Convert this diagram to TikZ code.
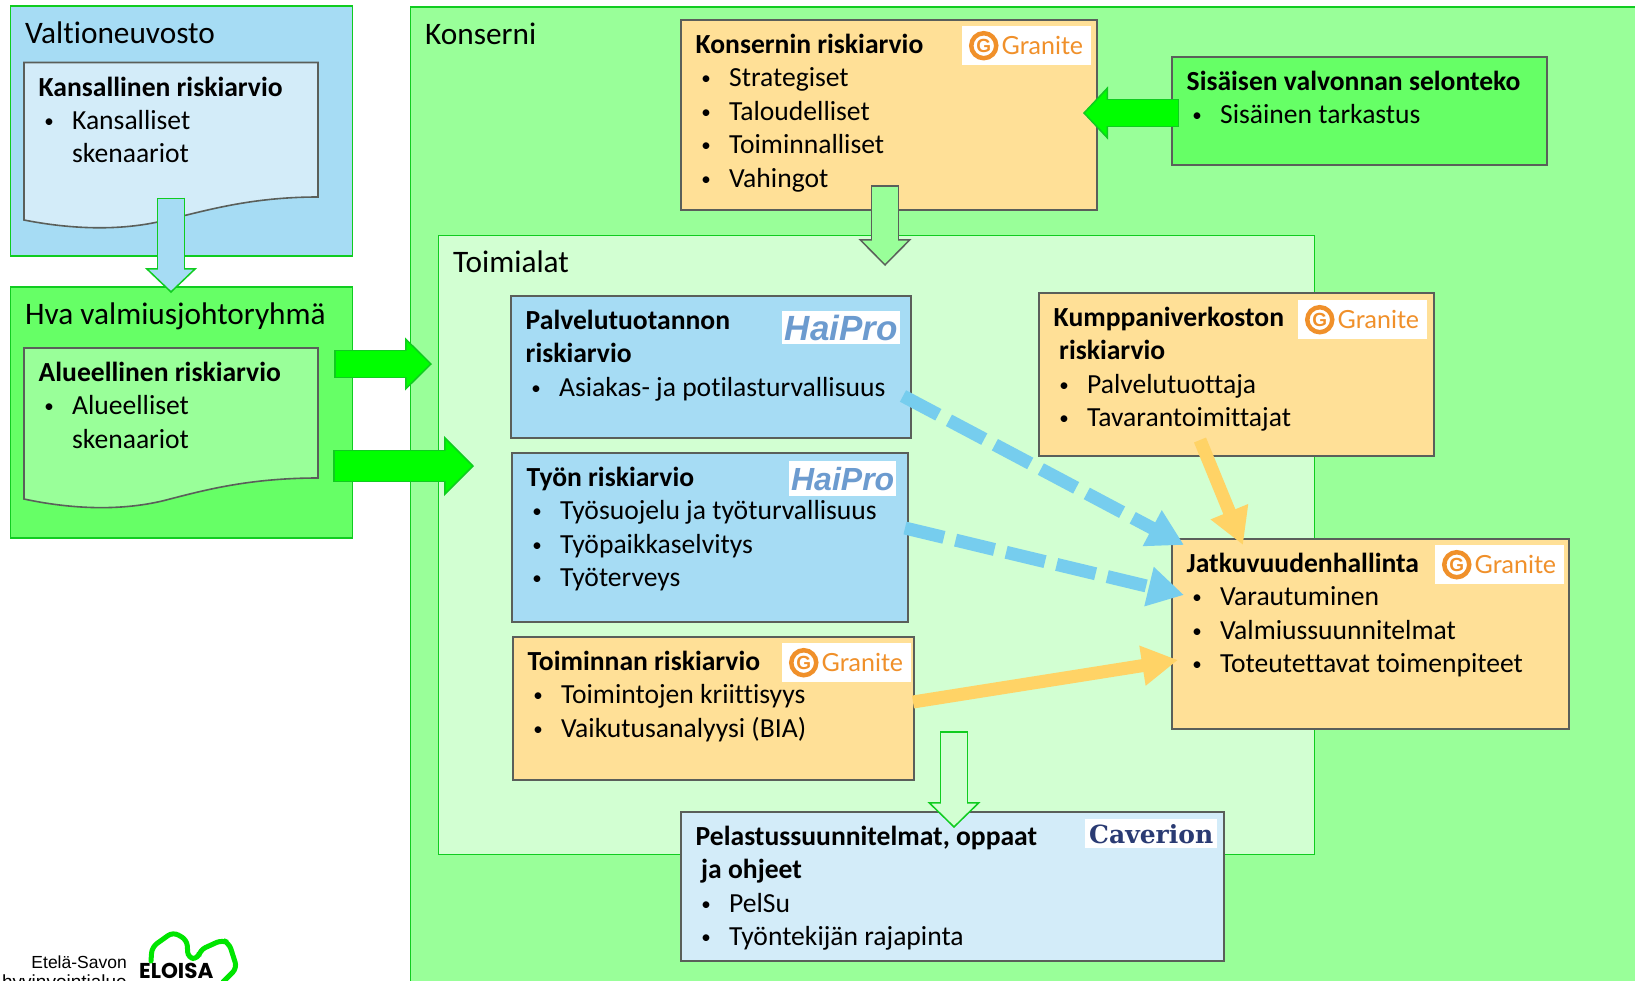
\documentclass[tikz,border=0pt]{standalone}
\usepackage{fontspec}
\setmainfont[Ligatures=NoCommon]{Carlito}
\newfontfamily\granitefont{Lato}
\newfontfamily\arialfont{Liberation Sans}
\newfontfamily\caverionfont{DejaVu Serif}
\newfontfamily\eloisafont{Poppins}
\usetikzlibrary{positioning, arrows.meta}

\definecolor{valtblue}{HTML}{A6DCF4}
\definecolor{paleblue}{HTML}{D3ECF9}
\definecolor{hvagreen}{HTML}{66FF66}
\definecolor{midgreen}{HTML}{99FF99}
\definecolor{palegreen}{HTML}{D2FFD2}
\definecolor{boxorange}{HTML}{FFE097}
\definecolor{edgegreen}{HTML}{10CC20}
\definecolor{edgegrey}{HTML}{5A5F5A}
\definecolor{puregreen}{HTML}{00FF00}
\definecolor{dashblue}{HTML}{76CDEE}
\definecolor{dashorange}{HTML}{FFD366}
\definecolor{graniteorange}{HTML}{F0902A}
\definecolor{haiproblue}{HTML}{6C9BCF}
\definecolor{caverionblue}{HTML}{2A3B73}

\newcommand{\riskitem}[1]{\makebox[33.4pt][l]{\hspace{5.6pt}\raisebox{2pt}{\fontsize{19}{19}\selectfont\textbullet}}#1}
\newcommand{\granitelogo}[3]{%
	\node[logobox, minimum width=129pt, minimum height=39pt] (#1) at (#2,#3) {};
	\node[circle, draw=graniteorange, line width=4.5pt, minimum size=25pt, inner sep=0pt, text=graniteorange,
		font=\arialfont\bfseries\fontsize{19}{19}\selectfont, right=7pt of #1.west] (#1_icon) {G};
	\node[text=graniteorange, inner sep=0pt, font=\granitefont\fontsize{25}{25}\selectfont, right=3pt of #1_icon] (#1_text) {Granite};
}

\tikzset{
	groupbox/.style={draw=edgegreen, line width=1.5pt, anchor=north west, inner sep=0pt, outer sep=0pt},
	riskbox/.style={draw=edgegrey, line width=1.6pt, anchor=north west, inner sep=0pt, outer sep=0pt},
	logobox/.style={fill=white, anchor=north west, inner sep=0pt},
	grouptext/.style={below right=12pt and 14.5pt of #1, inner sep=0pt, font=\fontsize{31.3}{36}\selectfont},
	risktext/.style={below right=10pt and 14.5pt of #1, inner sep=0pt, align=left, font=\fontsize{27.6}{33.4}\selectfont},
	arrowskin/.style n args={5}{draw=#1, line width=#3+1.5, -{Triangle[length=#5,width=#4,line width=1.5pt,fill=#2]}},
	arrowcore/.style n args={3}{draw=#1, line width=#2, shorten >=#3, shorten <=1.5pt},
	dashedarrow/.style={draw=#1, line width=13pt, dash pattern=on 40pt off 12pt, -{Triangle[length=36pt,width=38pt]}},
	solidarrow/.style={draw=#1, line width=13pt, -{Triangle[length=36pt,width=38pt]}}
}

\begin{document}
\begin{tikzpicture}[x=1pt, y=-1pt]
	\useasboundingbox (0,0) rectangle (1635,980);
	\clip (0,0) rectangle (1635,980);
	\fill[white] (0,0) rectangle (1635,980);

	% left column
	\node[groupbox, fill=valtblue, minimum width=342pt, minimum height=250pt] (valt) at (10.5,6) {};
	\node[grouptext=valt.north west] (valt_txt) {\strut Valtioneuvosto};
	\coordinate (kans) at (24,62.5);
	\draw[draw=edgegrey, line width=1.6pt, fill=paleblue] (kans) -- (318,62.5) -- (318,197)
		.. controls (250,197) and (205,211) .. (170,219) .. controls (130,230) and (80,231) .. (24,220) -- cycle;
	\node[risktext=kans] (kans_txt) {\strut\textbf{Kansallinen riskiarvio}\\
		\riskitem{Kansalliset}\\
		\hspace*{33.4pt}skenaariot};

	\node[groupbox, fill=hvagreen, minimum width=342pt, minimum height=251pt] (hva) at (10.5,287) {};
	\node[grouptext=hva.north west] (hva_txt) {\strut Hva valmiusjohtoryhmä};
	\coordinate (alue) at (24,348);
	\draw[draw=edgegrey, line width=1.6pt, fill=midgreen] (alue) -- (318,348) -- (318,478)
		.. controls (250,478) and (205,490) .. (170,499) .. controls (130,510) and (80,511) .. (24,499) -- cycle;
	\node[risktext=alue] (alue_txt) {\strut\textbf{Alueellinen riskiarvio}\\
		\riskitem{Alueelliset}\\
		\hspace*{33.4pt}skenaariot};

	% konserni
	\node[groupbox, fill=midgreen, minimum width=1300pt, minimum height=1100pt] (kons) at (410.5,7) {};
	\node[grouptext=kons.north west] (kons_txt) {\strut Konserni};
	\node[groupbox, fill=palegreen, minimum width=876pt, minimum height=619pt] (toim) at (438.5,235.5) {};
	\node[grouptext=toim.north west] (toim_txt) {\strut Toimialat};

	\node[riskbox, fill=boxorange, minimum width=416pt, minimum height=190pt] (kriski) at (681,20) {};
	\node[risktext=kriski.north west] (kriski_txt) {\strut\textbf{Konsernin riskiarvio}\\
		\riskitem{Strategiset}\\
		\riskitem{Taloudelliset}\\
		\riskitem{Toiminnalliset}\\
		\riskitem{Vahingot}};
	\granitelogo{kriski_logo}{962}{26}

	\node[riskbox, fill=hvagreen, minimum width=375pt, minimum height=108pt] (valvonta) at (1172,57) {};
	\node[risktext=valvonta.north west] (valvonta_txt) {\strut\textbf{Sisäisen valvonnan selonteko}\\
		\riskitem{Sisäinen tarkastus}};

	\node[riskbox, fill=valtblue, minimum width=400pt, minimum height=142pt] (palv) at (511,296) {};
	\node[risktext=palv.north west] (palv_txt) {\strut\textbf{Palvelutuotannon}\\
		\textbf{riskiarvio}\\
		\riskitem{Asiakas- ja potilasturvallisuus}};
	\node[logobox, minimum width=118pt, minimum height=33pt, text=haiproblue, font=\arialfont\bfseries\itshape\fontsize{35}{35}\selectfont] (palv_logo) at (782,311) {HaiPro};

	\node[riskbox, fill=valtblue, minimum width=396pt, minimum height=169pt] (tyon) at (512,453) {};
	\node[risktext=tyon.north west] (tyon_txt) {\strut\textbf{Työn riskiarvio}\\
		\riskitem{Työsuojelu ja työturvallisuus}\\
		\riskitem{Työpaikkaselvitys}\\
		\riskitem{Työterveys}};
	\node[logobox, minimum width=107pt, minimum height=35pt, text=haiproblue, font=\arialfont\bfseries\itshape\fontsize{32}{32}\selectfont] (tyon_logo) at (789,461) {HaiPro};

	\node[riskbox, fill=boxorange, minimum width=401pt, minimum height=143pt] (triski) at (513,637) {};
	\node[risktext=triski.north west] (triski_txt) {\strut\textbf{Toiminnan riskiarvio}\\
		\riskitem{Toimintojen kriittisyys}\\
		\riskitem{Vaikutusanalyysi (BIA)}};
	\granitelogo{triski_logo}{782}{643}

	\node[riskbox, fill=boxorange, minimum width=395pt, minimum height=163pt] (kump) at (1039,293) {};
	\node[risktext=kump.north west] (kump_txt) {\strut\textbf{Kumppaniverkoston}\\
		\hspace*{5.5pt}\textbf{riskiarvio}\\
		\riskitem{Palvelutuottaja}\\
		\riskitem{Tavarantoimittajat}};
	\granitelogo{kump_logo}{1298}{300}

	\node[riskbox, fill=boxorange, minimum width=397pt, minimum height=190pt] (jatk) at (1172,539) {};
	\node[risktext=jatk.north west] (jatk_txt) {\strut\textbf{Jatkuvuudenhallinta}\\
		\riskitem{Varautuminen}\\
		\riskitem{Valmiussuunnitelmat}\\
		\riskitem{Toteutettavat toimenpiteet}};
	\granitelogo{jatk_logo}{1435}{545}

	\node[riskbox, fill=paleblue, minimum width=543pt, minimum height=149pt] (pelsu) at (681,812) {};
	\node[risktext=pelsu.north west] (pelsu_txt) {\strut\textbf{Pelastussuunnitelmat, oppaat}\\
		\hspace*{5.5pt}\textbf{ja ohjeet}\\
		\riskitem{PelSu}\\
		\riskitem{Työntekijän rajapinta}};
	\node[logobox, minimum width=132pt, minimum height=29pt, text=caverionblue, font=\caverionfont\bfseries\fontsize{25}{25}\selectfont] (pelsu_logo) at (1085,819) {Caverion};

	% connector ends
	\coordinate (kans_out) at (171,197.5);
	\coordinate (hva_in) at (171,293);
	\coordinate (alue_out_a) at (334,364);
	\coordinate (kons_in) at (432,364);
	\coordinate (alue_out_b) at (333,466);
	\coordinate (toim_in) at (474,466);
	\coordinate (valvonta_out) at (1179,113);
	\coordinate (kriski_in) at (1083,113);
	\coordinate (kriski_out) at (885,185);
	\coordinate (toim_top) at (885,266);
	\coordinate (toim_out) at (954,731);
	\coordinate (pelsu_in) at (954,828);
	\coordinate (palv_out) at (903,396);
	\coordinate (jatk_in_a) at (1184,545);
	\coordinate (tyon_out) at (905,528);
	\coordinate (jatk_in_b) at (1184,595);
	\coordinate (kump_out) at (1200,440);
	\coordinate (jatk_in_c) at (1243,545);
	\coordinate (triski_out) at (913,702);
	\coordinate (jatk_in_d) at (1178,660);

	\path
	(kans_out) edge[arrowskin={edgegreen}{valtblue}{26}{52pt}{25pt}] (hva_in)
	(kans_out) edge[arrowcore={valtblue}{26}{23pt}] (hva_in)
	(alue_out_a) edge[arrowskin={edgegreen}{puregreen}{26}{53pt}{27pt}] (kons_in)
	(alue_out_a) edge[arrowcore={puregreen}{26}{25pt}] (kons_in)
	(alue_out_b) edge[arrowskin={edgegreen}{puregreen}{30}{60pt}{30pt}] (toim_in)
	(alue_out_b) edge[arrowcore={puregreen}{30}{28pt}] (toim_in)
	(valvonta_out) edge[arrowskin={edgegreen}{puregreen}{26}{53pt}{25pt}] (kriski_in)
	(valvonta_out) edge[arrowcore={puregreen}{26}{23pt}] (kriski_in)
	(kriski_out) edge[arrowskin={edgegrey}{midgreen}{26}{53pt}{27pt}] (toim_top)
	(kriski_out) edge[arrowcore={midgreen}{26}{25pt}] (toim_top)
	(toim_out) edge[arrowskin={edgegreen}{palegreen}{26}{53pt}{26pt}] (pelsu_in)
	(toim_out) edge[arrowcore={palegreen}{26}{24pt}] (pelsu_in);

	\path
	(palv_out) edge[dashedarrow=dashblue] (jatk_in_a)
	(tyon_out) edge[dashedarrow=dashblue] (jatk_in_b)
	(kump_out) edge[solidarrow=dashorange] (jatk_in_c)
	(triski_out) edge[solidarrow=dashorange] (jatk_in_d);

	% logo in the corner
	\node[inner sep=0pt, anchor=base east, font=\arialfont\fontsize{17.5}{20}\selectfont] (etela) at (127,968) {Etelä-Savon};
	\node[inner sep=0pt, anchor=base east, font=\arialfont\fontsize{19}{20}\selectfont] (hyvin) at (127,988) {hyvinvointialue};
	\node[inner sep=0pt, anchor=base west, font=\eloisafont\bfseries\fontsize{21.5}{22}\selectfont] (eloisa) at (139,978) {ELOISA};
	\draw[draw=puregreen!90!black, line width=5pt, rounded corners=6pt, line cap=round]
		(151,961) -- (152,947) -- (173,932) -- (187,940) -- (188,958) -- (198,959) -- (200,950) -- (222,940) -- (229,943) -- (237,968) -- (223,982);
\end{tikzpicture}
\end{document}
